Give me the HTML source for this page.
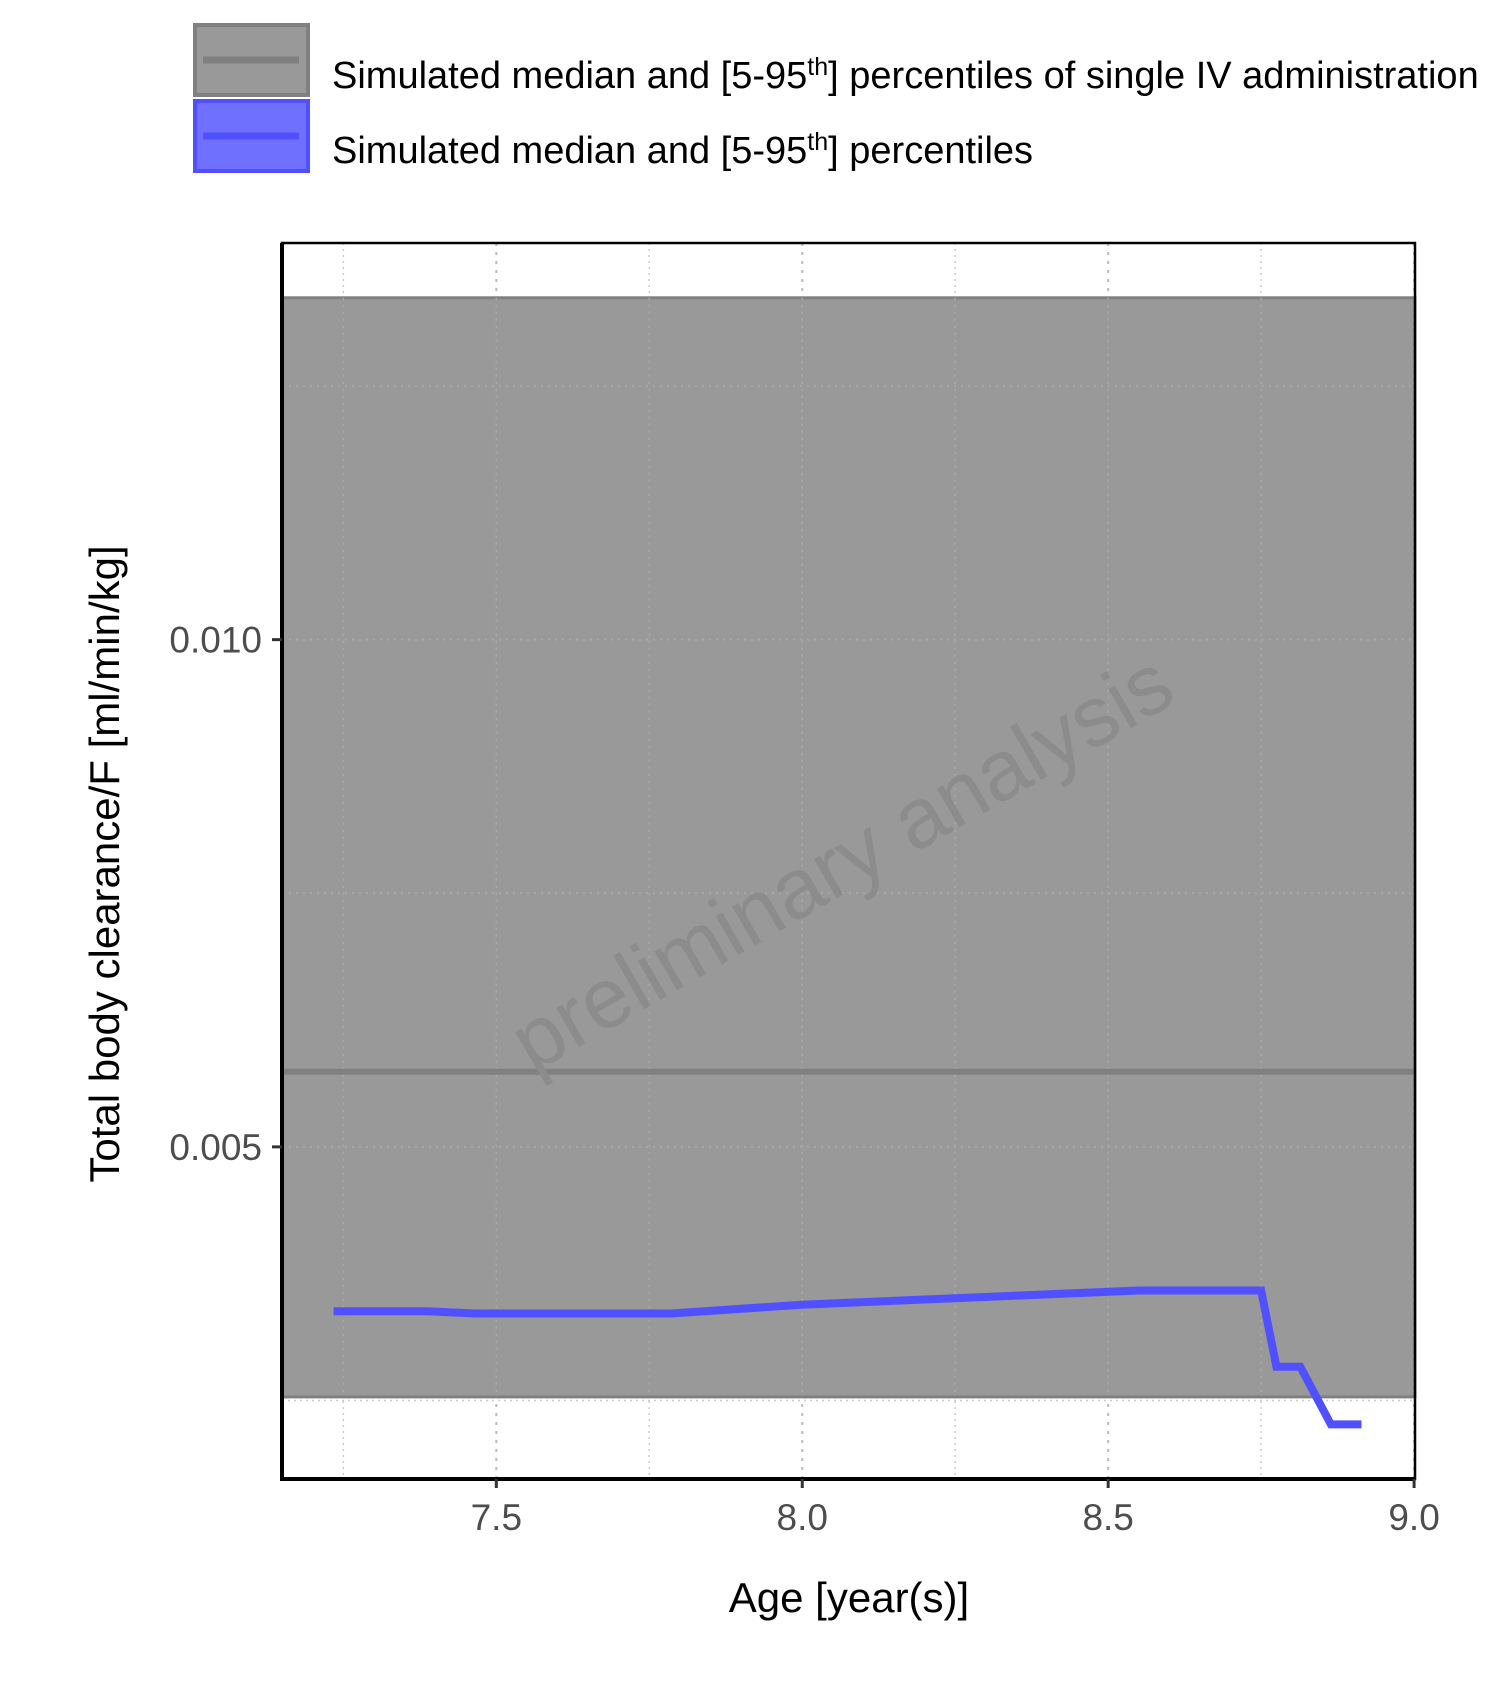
<!DOCTYPE html>
<html><head><meta charset="utf-8"><style>
body{margin:0;background:#fff;}
svg{display:block;font-family:"Liberation Sans",sans-serif;}
</style></head><body>
<svg id="chart" width="1500" height="1703" viewBox="0 0 1500 1703">
<g>
 <g>
  <rect x="195" y="25" width="113" height="70" fill="#999" stroke="#808080" stroke-width="4"/>
  <line x1="203" y1="60" x2="299" y2="60" stroke="#808080" stroke-width="7"/>
  <text x="332" y="88" font-size="38" fill="#000">Simulated median and [5-95<tspan font-size="25" dy="-13">th</tspan><tspan dy="13">] percentiles of single IV administration</tspan></text>
 </g>
 <g>
  <rect x="195" y="101" width="113" height="70" fill="#7070ff" stroke="#5050ff" stroke-width="4"/>
  <line x1="203" y1="136" x2="299" y2="136" stroke="#5050ff" stroke-width="7"/>
  <text x="332" y="163" font-size="38" fill="#000">Simulated median and [5-95<tspan font-size="25" dy="-13">th</tspan><tspan dy="13">] percentiles</tspan></text>
 </g>
</g>
<g id="plot"></g>
<text x="849" y="1612" font-size="42" text-anchor="middle" fill="#000">Age [year(s)]</text>
<text transform="translate(119,864) rotate(-90)" font-size="42" text-anchor="middle" fill="#000">Total body clearance/F [ml/min/kg]</text>
</svg>
<script>
const xTicks=[7.5,8.0,8.5,9.0];
const xTickLabels=["7.5","8.0","8.5","9.0"];
const xMinor=[7.25,7.75,8.25,8.75];
const yTicks=[0.005,0.010];
const yTickLabels=["0.005","0.010"];
const yMinor=[0.0025,0.0075,0.0125];
const bandLow=0.002535, bandHigh=0.01337, bandMedian=0.00574;
const ages=[7.234,7.386,7.466,7.786,7.999,8.55,8.75,8.775,8.814,8.864,8.914];
const clearance=[0.00338,0.00338,0.003358,0.003358,0.003444,0.003584,0.003584,0.002833,0.002833,0.002264,0.002264];
const L=282,R=1415,T=243,B=1479;
const xMin=7.1497,xMax=9.0015,yMin=0.001726,yMax=0.01391;
const X=v=>L+(v-xMin)/(xMax-xMin)*(R-L);
const Y=v=>B-(v-yMin)/(yMax-yMin)*(B-T);
const NS="http://www.w3.org/2000/svg";
const g=document.getElementById('plot');
function mk(t,a,p){const e=document.createElementNS(NS,t);for(const k in a)e.setAttribute(k,a[k]);(p||g).appendChild(e);return e;}
xMinor.forEach(v=>{const e=mk('line',{x1:X(v),x2:X(v),y1:T,y2:B,stroke:'#ccc','stroke-width':1.5,'stroke-dasharray':'2 4'});

});
yMinor.forEach(v=>{const e=mk('line',{x1:L,x2:R,y1:Y(v),y2:Y(v),stroke:'#ccc','stroke-width':1.5,'stroke-dasharray':'2 4'});

});
xTicks.forEach(v=>{const e=mk('line',{x1:X(v),x2:X(v),y1:T,y2:B,stroke:'#bbb','stroke-width':2,'stroke-dasharray':'3 6'});

});
yTicks.forEach(v=>{const e=mk('line',{x1:L,x2:R,y1:Y(v),y2:Y(v),stroke:'#bbb','stroke-width':2,'stroke-dasharray':'3 6'});

});
const band=mk('rect',{x:L,y:Y(bandHigh),width:R-L,height:Y(bandLow)-Y(bandHigh),fill:'#999',stroke:'#808080','stroke-width':3});


[...xMinor,...xTicks].forEach(v=>{const e=mk('line',{x1:X(v),x2:X(v),y1:Y(bandHigh),y2:Y(bandLow),stroke:'#aaa','stroke-width':1.5,'stroke-dasharray':'2 5'});

});
[...yMinor,...yTicks].filter(v=>v>bandLow&&v<bandHigh).forEach(v=>{const e=mk('line',{x1:L,x2:R,y1:Y(v),y2:Y(v),stroke:'#aaa','stroke-width':1.5,'stroke-dasharray':'2 5'});

});
const med=mk('line',{x1:L,x2:R,y1:Y(bandMedian),y2:Y(bandMedian),stroke:'#808080','stroke-width':6});


const wm=mk('text',{x:0,y:0,'font-size':85,fill:'#8c8c8c','text-anchor':'middle',transform:'translate(856,887) rotate(-30)'});
wm.textContent='preliminary analysis';


const line=mk('polyline',{points:ages.map((a,i)=>X(a)+','+Y(clearance[i])).join(' '),fill:'none',stroke:'#5050ff','stroke-width':8,'stroke-linejoin':'miter'});


const frame=mk('path',{d:`M${L} ${T}H${R}V${B}H${L}Z`,fill:'none',stroke:'#000','stroke-width':2.5});


const ax=mk('path',{d:`M${L} ${T}V${B}H${R}`,fill:'none',stroke:'#000','stroke-width':4});


xTicks.forEach((v,i)=>{const t=mk('line',{x1:X(v),x2:X(v),y1:B,y2:B+9,stroke:'#333','stroke-width':3});


const l=mk('text',{x:X(v),y:B+51,'font-size':37,fill:'#4d4d4d','text-anchor':'middle'});l.textContent=xTickLabels[i];

});
yTicks.forEach((v,i)=>{const t=mk('line',{x1:L-10,x2:L,y1:Y(v),y2:Y(v),stroke:'#333','stroke-width':3});


const l=mk('text',{x:L-20,y:Y(v)+13,'font-size':37,fill:'#4d4d4d','text-anchor':'end'});l.textContent=yTickLabels[i];

});
</script>
</body></html>
